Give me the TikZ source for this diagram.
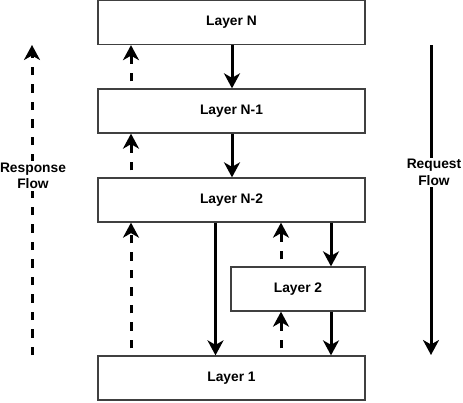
\documentclass[tikz,border=0pt]{standalone}
\usepackage{fontspec}
\setmainfont{Liberation Sans}
\usetikzlibrary{arrows.meta}
\begin{document}
\begin{tikzpicture}[x=1pt,y=-1pt,
  layer/.style={draw=black!75, line width=1.3pt, fill=white, inner sep=0pt,
    minimum height=44pt, font=\fontsize{13.8}{16.5}\selectfont\bfseries},
  wide/.style={minimum width=267pt},
  narrow/.style={minimum width=134pt},
  req/.style={line width=3pt, -{Stealth[length=15pt,width=16pt,inset=4.5pt]}},
  resp/.style={req, dash pattern=on 8.5pt off 9pt},
  gapped/.style={shorten <=7pt},
  flowlabel/.style={fill=white, align=center, inner sep=1.5pt,
    font=\fontsize{13.8}{16.5}\selectfont\bfseries}]
\useasboundingbox (0,0) rectangle (463,402);

% guide coordinates for vertical positions of connectors
\coordinate (xa) at (131,0);
\coordinate (xb) at (232,0);
\coordinate (xc) at (215.5,0);
\coordinate (xd) at (281,0);
\coordinate (xe) at (331,0);

% layers
\node[layer, wide]   (LN)  at (231.5, 22.5) {Layer N};
\node[layer, wide]   (LN1) at (231.5, 111)  {Layer N-1};
\node[layer, wide]   (LN2) at (231.5, 200)  {Layer N-2};
\node[layer, narrow] (L2)  at (298, 289)    {Layer 2};
\node[layer, wide]   (L1)  at (231.5, 378)  {Layer 1};

% request arrows
\draw[req] (LN.south -| xb) -- (LN1.north -| xb);
\draw[req] (LN1.south -| xb) -- (LN2.north -| xb);
\draw[req] (LN2.south -| xc) -- (L1.north -| xc);
\draw[req] (LN2.south -| xe) -- (L2.north -| xe);
\draw[req] (L2.south -| xe) -- (L1.north -| xe);

% response arrows
\draw[resp, gapped] (LN1.north -| xa) -- (LN.south -| xa);
\draw[resp, gapped] (LN2.north -| xa) -- (LN1.south -| xa);
\draw[resp, gapped] (L1.north -| xa) -- (LN2.south -| xa);
\draw[resp, gapped] (L2.north -| xd) -- (LN2.south -| xd);
\draw[resp, gapped] (L1.north -| xd) -- (L2.south -| xd);

% flow legends
\coordinate (rsb) at (32,355);
\coordinate (rst) at (32,45);
\coordinate (rqt) at (431,45);
\coordinate (rqb) at (431,355);
\draw[resp] (rsb) -- (rst);
\draw[req] (rqt) -- (rqb);
\node[flowlabel] (rsl) at (33,176) {Response\\Flow};
\node[flowlabel] (rql) at (434,172.5) {Request\\Flow};
\end{tikzpicture}
\end{document}
